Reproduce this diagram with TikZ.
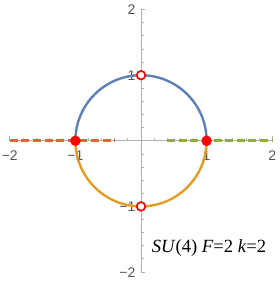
\documentclass[tikz,border=0pt]{standalone}
\usepackage{fontspec}
\setmainfont{Liberation Serif}
\setsansfont{Liberation Sans}
\definecolor{axgray}{RGB}{175,175,175}
\definecolor{lblgray}{RGB}{85,85,85}
\definecolor{mblue}{HTML}{5E81B5}
\definecolor{morange}{HTML}{E19C24}
\definecolor{mgreen}{HTML}{8FB032}
\definecolor{mred}{HTML}{EB6235}
\tikzset{
  axisline/.style={draw=axgray, line width=0.8pt},
  ticklbl/.style={text=lblgray, inner sep=0pt, font=\sffamily\fontsize{14}{16}\selectfont},
  curve/.style={line width=2.4pt},
  dashline/.style={line width=2.8pt, dash pattern=on 8pt off 3.6pt},
  fillmark/.style={circle, fill=red, inner sep=0pt, minimum size=10.5pt},
  openmark/.style={circle, draw=red, fill=white, line width=1.7pt, inner sep=0pt, minimum size=8.6pt},
  caption/.style={anchor=base west, inner sep=0pt, font=\fontsize{18.6}{22}\selectfont}
}
\begin{document}
\begin{tikzpicture}[x=65.6pt,y=65.6pt]
\useasboundingbox (-141pt,-143.2pt) rectangle (138pt,140.8pt);
% axes
\draw[axisline] (-2,0) -- (2,0);
\draw[axisline] (0,-2) -- (0,2);
\foreach \i in {-10,...,-1,1,2,...,10}{
  \pgfmathtruncatemacro{\m}{mod(abs(\i),5)}
  \ifnum\m=0
    \draw[axisline] (\i/5,0) -- ++(0,4.5pt);
    \draw[axisline] (0,\i/5) -- ++(4.5pt,0);
  \else
    \draw[axisline] (\i/5,0) -- ++(0,2.7pt);
    \draw[axisline] (0,\i/5) -- ++(2.7pt,0);
  \fi
}
% tick labels
\foreach \v/\t in {-2/−2,-1/−1,1/1,2/2}{
  \node[ticklbl, anchor=base] (xl\v) at ([yshift=-20pt]\v,0) {\t};
  \node[ticklbl, anchor=base east] (yl\v) at ([xshift=-5.5pt,yshift=-5pt]0,\v) {\t};
}
% points
\coordinate (R) at (1,0);
\coordinate (L) at (-1,0);
\coordinate (T) at (0,1);
\coordinate (B) at (0,-1);
\coordinate (Ls) at (-2,0);
\coordinate (Le) at (-0.4,0);
\coordinate (Rs) at (0.4,0);
\coordinate (Re) at (2,0);
% curves
\draw[curve, mblue] (R) arc (0:180:1);
\draw[curve, morange] (L) arc (180:360:1);
\draw[dashline, mred] (Ls) -- (Le);
\draw[dashline, mgreen] (Rs) -- (Re);
% markers
\node[fillmark] (pL) at (L) {};
\node[fillmark] (pR) at (R) {};
\node[openmark] (pT) at (T) {};
\node[openmark] (pB) at (B) {};
% caption
\node[caption] (cap) at (10.7pt,-111.5pt) {\textit{SU}(4) \textit{F}=2 \textit{k}=2};
\end{tikzpicture}
\end{document}
